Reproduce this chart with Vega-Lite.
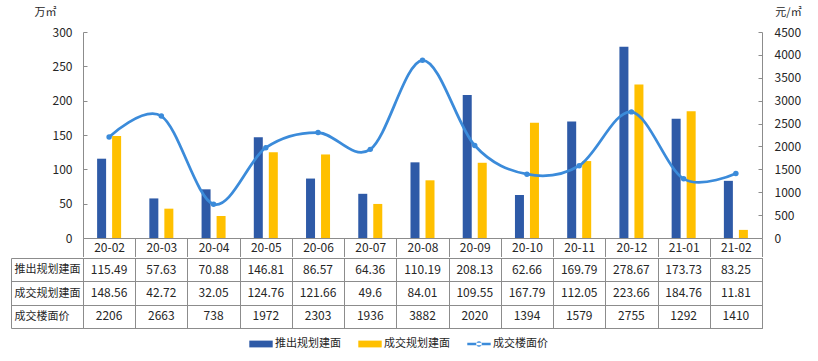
{
  "$schema": "https://vega.github.io/schema/vega-lite/v6.json",
  "padding": {"left": 10, "top": 6, "right": 5, "bottom": 5},
  "background": "white",
  "config": {
    "font": "Noto Sans CJK SC",
    "view": {"stroke": null},
    "axis": {"labelFont": "Noto Sans CJK SC", "labelFontSize": 12, "labelColor": "#262626", "domainColor": "#8c8c8c", "tickColor": "#8c8c8c", "grid": false, "titleFont": "Noto Sans CJK SC", "titleFontWeight": "normal", "titleFontSize": 11, "titleColor": "#262626"},
    "legend": {"labelFont": "Noto Sans CJK SC", "labelFontSize": 11, "labelColor": "#262626"}
  },
  "datasets": {
    "d": [
      {"month": "20-02", "series": "推出规划建面", "value": 115.49},
      {"month": "20-03", "series": "推出规划建面", "value": 57.63},
      {"month": "20-04", "series": "推出规划建面", "value": 70.88},
      {"month": "20-05", "series": "推出规划建面", "value": 146.81},
      {"month": "20-06", "series": "推出规划建面", "value": 86.57},
      {"month": "20-07", "series": "推出规划建面", "value": 64.36},
      {"month": "20-08", "series": "推出规划建面", "value": 110.19},
      {"month": "20-09", "series": "推出规划建面", "value": 208.13},
      {"month": "20-10", "series": "推出规划建面", "value": 62.66},
      {"month": "20-11", "series": "推出规划建面", "value": 169.79},
      {"month": "20-12", "series": "推出规划建面", "value": 278.67},
      {"month": "21-01", "series": "推出规划建面", "value": 173.73},
      {"month": "21-02", "series": "推出规划建面", "value": 83.25},
      {"month": "20-02", "series": "成交规划建面", "value": 148.56},
      {"month": "20-03", "series": "成交规划建面", "value": 42.72},
      {"month": "20-04", "series": "成交规划建面", "value": 32.05},
      {"month": "20-05", "series": "成交规划建面", "value": 124.76},
      {"month": "20-06", "series": "成交规划建面", "value": 121.66},
      {"month": "20-07", "series": "成交规划建面", "value": 49.6},
      {"month": "20-08", "series": "成交规划建面", "value": 84.01},
      {"month": "20-09", "series": "成交规划建面", "value": 109.55},
      {"month": "20-10", "series": "成交规划建面", "value": 167.79},
      {"month": "20-11", "series": "成交规划建面", "value": 112.05},
      {"month": "20-12", "series": "成交规划建面", "value": 223.66},
      {"month": "21-01", "series": "成交规划建面", "value": 184.76},
      {"month": "21-02", "series": "成交规划建面", "value": 11.81},
      {"month": "20-02", "series": "成交楼面价", "value": 2206},
      {"month": "20-03", "series": "成交楼面价", "value": 2663},
      {"month": "20-04", "series": "成交楼面价", "value": 738},
      {"month": "20-05", "series": "成交楼面价", "value": 1972},
      {"month": "20-06", "series": "成交楼面价", "value": 2303},
      {"month": "20-07", "series": "成交楼面价", "value": 1936},
      {"month": "20-08", "series": "成交楼面价", "value": 3882},
      {"month": "20-09", "series": "成交楼面价", "value": 2020},
      {"month": "20-10", "series": "成交楼面价", "value": 1394},
      {"month": "20-11", "series": "成交楼面价", "value": 1579},
      {"month": "20-12", "series": "成交楼面价", "value": 2755},
      {"month": "21-01", "series": "成交楼面价", "value": 1292},
      {"month": "21-02", "series": "成交楼面价", "value": 1410}
    ]
  },
  "data": {"name": "d"},
  "spacing": -6,
  "resolve": {"scale": {"x": "independent", "y": "independent"}},
  "vconcat": [
    {
      "width": 679,
      "height": 206,
      "encoding": {
        "x": {"field": "month", "type": "ordinal", "scale": {"paddingInner": 0, "paddingOuter": 0},
          "axis": {"title": null, "domain": true, "ticks": true, "tickBand": "extent", "tickSize": 18.5, "labelPadding": -9.25, "labelBaseline": "middle", "labelAngle": 0, "minExtent": 0, "maxExtent": 18.5}}
      },
      "layer": [
        {
          "transform": [{"filter": "datum.series !== '成交楼面价'"}],
          "mark": {"type": "bar"},
          "encoding": {
            "xOffset": {"field": "series", "type": "nominal", "scale": {"domain": ["推出规划建面", "成交规划建面"], "paddingInner": 0.4, "paddingOuter": 0.94}},
            "y": {"field": "value", "type": "quantitative", "scale": {"domain": [0, 300], "nice": false},
              "axis": {"orient": "left", "values": [0, 50, 100, 150, 200, 250, 300], "tickSize": -4, "labelPadding": 15, "title": "万㎡", "titleAngle": 0, "titleX": -38, "titleY": -20, "titleAlign": "center", "titleBaseline": "middle"}},
            "color": {"field": "series", "type": "nominal",
              "scale": {"domain": ["推出规划建面", "成交规划建面", "成交楼面价"], "range": ["#2E5AA7", "#FFC000", "#3B8BDA"]},
              "legend": {"orient": "none", "legendX": 166, "legendY": 300, "direction": "horizontal", "title": null, "symbolSize": 548, "labelOffset": 2, "columnPadding": 17, "padding": 0,
                "encode": {"symbols": {"update": {
                  "shape": {"signal": "datum.value === '成交楼面价' ? 'M-1,-0.11H1V0.11H-1Z M-0.24,0A0.24,0.24,0,1,0,0.24,0A0.24,0.24,0,1,0,-0.24,0Z' : 'M-1,-0.29H1V0.29H-1Z'"},
                  "fill": {"scale": "color", "field": "value"},
                  "stroke": {"value": "transparent"},
                  "strokeWidth": {"value": 0},
                  "opacity": {"value": 1}
                }}}}}
          }
        },
        {
          "transform": [{"filter": "datum.series === '成交楼面价'"}],
          "encoding": {
            "y": {"field": "value", "type": "quantitative", "scale": {"domain": [0, 4500], "nice": false},
              "axis": {"orient": "right", "values": [0, 500, 1000, 1500, 2000, 2500, 3000, 3500, 4000, 4500], "format": "d", "tickSize": -4, "labelPadding": 16, "title": "元/㎡", "titleAngle": 0, "titleX": 26, "titleY": -20, "titleAlign": "center", "titleBaseline": "middle"}},
            "color": {"field": "series", "type": "nominal"}
          },
          "layer": [
            {"mark": {"type": "line", "interpolate": "cardinal", "strokeWidth": 2.75}},
            {"mark": {"type": "point", "filled": true, "size": 30, "opacity": 1}}
          ]
        }
      ],
      "resolve": {"scale": {"y": "independent"}}
    },
    {
      "width": 679,
      "height": 70,
      "view": {"stroke": "#8c8c8c"},
      "mark": {"type": "text", "fontSize": 12, "color": "#262626"},
      "encoding": {
        "x": {"field": "month", "type": "ordinal", "scale": {"paddingInner": 0, "paddingOuter": 0},
          "axis": {"orient": "top", "title": null, "labels": false, "ticks": false, "domain": false, "grid": true, "gridColor": "#8c8c8c", "gridOpacity": 1, "tickBand": "extent", "minExtent": 0, "maxExtent": 0}},
        "y": {"field": "series", "type": "nominal", "sort": ["推出规划建面", "成交规划建面", "成交楼面价"], "scale": {"paddingInner": 0, "paddingOuter": 0},
          "axis": {"title": null, "offset": 72, "domain": true, "ticks": true, "tickSize": -72, "tickBand": "extent", "grid": true, "gridColor": "#8c8c8c", "gridOpacity": 1, "labelAlign": "left", "labelPadding": 69, "labelFontSize": 11, "labelBaseline": "middle"}},
        "text": {"field": "value", "type": "nominal"}
      }
    }
  ]
}
